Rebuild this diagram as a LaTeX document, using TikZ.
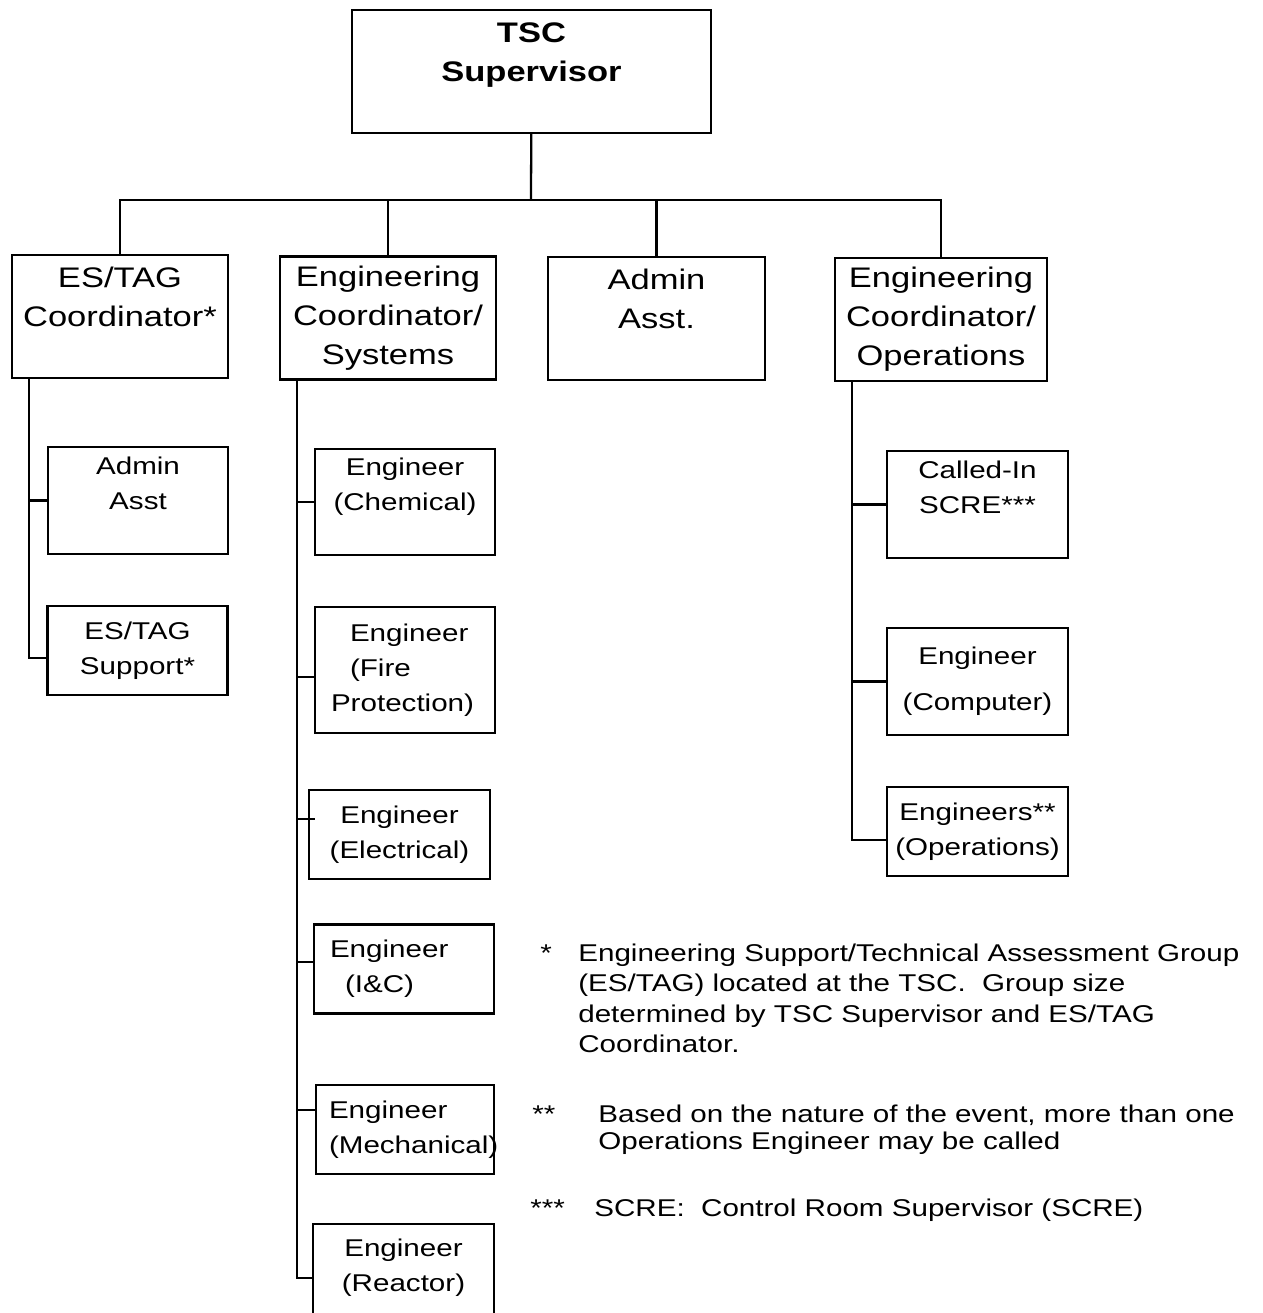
\documentclass[tikz,border=0pt]{standalone}
\usepackage{fontspec}
\setmainfont{Liberation Sans}[FakeStretch=1.22]
\tikzset{
    %Define style for boxes
    box/.style={
           rectangle,
           draw=black, line width=1.3pt,
           inner sep=0pt,
           align=center},
    headbox/.style={
           box,
           minimum width=4.32cm,
           minimum height=2.46cm,
           font=\fontsize{16.1}{22.2}\selectfont},
    staffbox/.style={
           box,
           minimum width=3.6cm,
           minimum height=1.78cm,
           font=\fontsize{13.8}{19.9}\selectfont},
    % Define line style
    link/.style={
           line width=1.3pt},
    notetext/.style={
           inner sep=0pt,
           align=left,
           font=\fontsize{13.8}{17.1}\selectfont}
}

\begin{document}
\begin{tikzpicture}[x=0.02cm, y=-0.02cm]
 \useasboundingbox (0,0) rectangle (1263,1313);
 %nodes
    \node[headbox, minimum width=7.18cm, font=\fontsize{16.1}{22.2}\selectfont\bfseries] (tsc) at (531.5,71.5) {TSC\\Supervisor\\\mbox{}};
    \node[headbox] (estag) at (120,316.5) {ES/TAG\\Coordinator*\\\mbox{}};
    \node[headbox] (ecsys) at (388,318) {Engineering\\Coordinator/\\Systems};
    \node[headbox, minimum width=4.34cm] (admin) at (656.5,318.5) {Admin\\Asst.\\\mbox{}};
    \node[headbox, minimum width=4.24cm] (ecops) at (941,319.5) {Engineering\\Coordinator/\\Operations};
 %ES/TAG staff
    \node[staffbox, minimum height=2.14cm] (asst) at (138,500.5) {Admin\\Asst\\\mbox{}};
    \node[staffbox] (esup) at (137.5,650.5) {ES/TAG\\Support*};
 %systems engineers
    \node[staffbox, minimum height=2.12cm] (chem) at (405,502) {Engineer\\(Chemical)\\\mbox{}};
    \node[staffbox, minimum height=2.52cm, align=left, inner xsep=0.32cm, text width=2.96cm] (fire) at (405,670) {\hspace*{0.38cm}Engineer\\\hspace*{0.38cm}(Fire\\Protection)};
    \node[staffbox, minimum width=3.62cm] (elec) at (399.5,834.5) {Engineer\\(Electrical)};
    \node[staffbox, align=left, inner xsep=0.32cm, text width=2.96cm] (ic) at (404,969) {Engineer\\\hspace*{0.3cm}(I\&C)};
    \node[staffbox, minimum width=3.56cm, align=left, inner xsep=0.26cm, text width=3.04cm] (mech) at (405,1129.5) {Engineer\\(Mechanical)};
    \node[staffbox, draw=none, minimum width=3.58cm, minimum height=1.7cm] (reac) at (403.5,1267.5) {Engineer\\(Reactor)};
 %operations staff
    \node[staffbox, minimum width=3.62cm, minimum height=2.14cm] (scre) at (977.5,504.5) {Called-In\\SCRE***\\\mbox{}};
    \node[staffbox, minimum width=3.62cm, minimum height=2.14cm] (comp) at (977.5,681.5) {Engineer\\[0.22cm](Computer)};
    \node[staffbox, minimum width=3.62cm] (opse) at (977.5,831.5) {Engineers**\\(Operations)};
 %notes
    \node[notetext, anchor=north west] (mark1) at (540,944) {*};
    \node[notetext, anchor=north west] (note1) at (578,944) {Engineering Support/Technical Assessment Group\\(ES/TAG) located at the TSC.~ Group size\\determined by TSC Supervisor and ES/TAG\\Coordinator.};
    \node[notetext, anchor=north west] (mark2) at (532,1105) {**};
    \node[notetext, anchor=north west, font=\fontsize{13.8}{15.4}\selectfont] (note2) at (598,1105) {Based on the nature of the event, more than one\\Operations Engineer may be called};
    \node[notetext, anchor=north west] (mark3) at (530,1199) {***};
    \node[notetext, anchor=north west] (note3) at (594,1199) {SCRE:~ Control Room Supervisor (SCRE)};
 %edges
    \coordinate (bus) at (531,200);
    \draw[link] (tsc) -- (bus);
    \foreach \n in {estag,ecsys,admin,ecops}
        \draw[link] (\n) |- (bus);
    % ES/TAG branch
    \coordinate (lspine) at ([xshift=0.36cm]estag.south west);
    \coordinate (esupin) at ([yshift=-0.15cm]esup.west);
    \draw[link] (lspine) |- (esupin);
    \draw[link] (asst.west) -- (asst.west -| lspine);
    % systems branch
    \coordinate (sspine) at ([xshift=0.36cm]ecsys.south west);
    \coordinate (reacin) at ([yshift=-0.21cm]reac.west);
    \draw[link] (sspine) |- (reacin);
    \foreach \n/\dy in {chem/0,fire/-0.14,ic/0.14,mech/0.39}{
        \coordinate (tap) at ([yshift=\dy cm]\n.west);
        \draw[link] (tap) -- (tap -| sspine);
    }
    \coordinate (elecin) at ([xshift=0.14cm,yshift=0.31cm]elec.west);
    \draw[link] (elecin) -- (elecin -| sspine);
    \draw[link] ([yshift=-1.2cm]reac.south west) |- (reac.north east) -- ([yshift=-1.2cm]reac.south east);
    % operations branch
    \coordinate (ospine) at ([xshift=0.36cm]ecops.south west);
    \coordinate (opsein) at ([yshift=-0.17cm]opse.west);
    \draw[link] (ospine) |- (opsein);
    \draw[link] (scre.west) -- (scre.west -| ospine);
    \draw[link] (comp.west) -- (comp.west -| ospine);
\end{tikzpicture}
\end{document}
